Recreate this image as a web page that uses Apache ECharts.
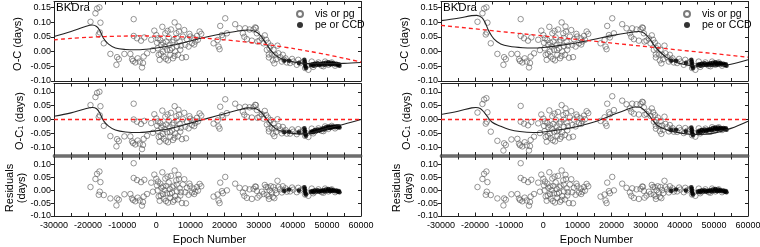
<!DOCTYPE html>
<html><head><meta charset="utf-8">
<script src="https://cdn.jsdelivr.net/npm/echarts@6/dist/echarts.min.js"></script>
<style>html,body{margin:0;padding:0;background:#fff}#c{width:760px;height:247px}</style>
</head><body><div id="c"></div>
<script>
// ---------- tick labels ----------
const xTickLabels = [-30000,-20000,-10000,0,10000,20000,30000,40000,50000,60000];
const yTicksOC  = [-0.10,-0.05,0,0.05,0.10,0.15];
const yTicksOC1 = [-0.10,-0.05,0,0.05,0.10];
const yTicksRes = [-0.10,-0.05,0,0.05,0.10];
const legendNames = ['vis or pg','pe or CCD'];

// ---------- visual / photographic timings ----------
const visE = [-19300,-17850,-17370,-16680,-16390,-16580,-16880,-15410,-13470,-11510,
 -11700,-11000,-9360,-7610,-7120,-6830,-6640,-6640,-6150,-5660,
 -5460,-4880,-4490,-4200,-3910,-3520,-3710,-2730,
 -1500,-1000,-590,0,200,390,500,690,980,1170,
 1300,1460,1760,1950,2000,2150,2440,2640,2800,2930,
 3120,3300,3420,3610,3900,4000,4100,4290,4590,4700,
 4880,5070,5300,5370,5560,5850,6000,6050,6340,6500,
 6630,6830,7020,7200,7510,7800,8190,8490,8700,8970,
 9460,9700,9950,10440,10930,11100,11420,11910,12200,12690,
 13170,16780,17950,18240,18540,18730,19220,19510,20200,20690,
 23120,24390,25370,25800,26050,26540,27320,28000,28490,28980,
 29200,29470,29660,30250,30930,31420,31800,32200,32400,32700,
 32980,33000,33180,33570,33860,34150,34350,34600,34830,35130,
 35520,35810,36300,36790,37080,37470,37860,38250,39220,39800,
 40200,41170,41600,42150,43120,43610,44100,44580,45560,46000,
 46540,47510,48490,49000,49460,50440,51420,52390];
const visOC = [.101,.130,.146,.150,.098,.065,.058,.028,-.008,-.019,
 -.045,-.026,-.008,-.008,-.026,-.032,.110,.053,-.037,.045,
 -.023,-.034,.037,-.054,-.039,.048,-.017,-.006,
 .040,.005,.071,.056,.030,.011,.045,-.011,-.028,.039,
 -.008,.023,.084,.000,.030,-.017,.017,.062,-.025,.034,
 .006,.070,-.030,.048,.023,.005,-.011,.075,.011,.032,
 -.023,.039,-.015,.099,.000,.062,.046,.019,-.011,.085,
 .068,.034,.006,.020,-.021,.051,.073,.023,-.019,.042,
 .017,.060,.051,.028,.045,.024,.034,.053,.040,.068,
 .060,.028,.039,.017,.008,.087,.056,.048,.113,.062,
 .093,.079,.062,.050,.079,.042,.075,.037,.075,.082,
 .080,.062,.034,.037,.045,.028,.055,.040,.006,.030,
 -.010,-.020,.011,.020,-.010,-.030,.006,-.040,-.011,-.026,
 .020,-.006,-.019,-.034,-.011,-.028,-.023,-.037,-.039,-.025,
 -.034,-.045,-.028,-.039,-.034,-.056,-.048,-.062,-.034,-.052,
 -.045,-.037,-.048,-.050,-.034,-.045,-.037,-.048];
const visOC1Left = [.052,.081,.096,.100,.048,.015,.008,-.023,-.060,-.071,
 -.097,-.078,-.061,-.061,-.079,-.085,.057,.000,-.090,-.008,
 -.076,-.087,-.016,-.107,-.092,-.005,-.070,-.059,
 -.013,-.048,.019,.004,-.022,-.041,-.007,-.063,-.080,-.013,
 -.060,-.029,.032,-.052,-.022,-.069,-.035,.010,-.077,-.018,
 -.046,.018,-.082,-.004,-.028,-.046,-.062,.024,-.040,-.019,
 -.074,-.012,-.066,.048,-.051,.012,-.004,-.031,-.061,.035,
 .018,-.016,-.044,-.030,-.071,.001,.024,-.026,-.068,-.007,
 -.032,.012,.003,-.020,-.003,-.024,-.013,.006,-.007,.022,
 .014,-.015,-.003,-.025,-.033,.046,.015,.007,.073,.023,
 .057,.044,.028,.017,.046,.010,.044,.007,.045,.053,
 .052,.034,.006,.010,.019,.003,.031,.016,-.018,.007,
 -.033,-.043,-.011,-.002,-.031,-.051,-.015,-.060,-.031,-.045,
 .001,-.024,-.036,-.050,-.027,-.043,-.038,-.051,-.051,-.036,
 -.044,-.053,-.035,-.045,-.038,-.059,-.050,-.063,-.033,-.050,
 -.042,-.032,-.041,-.042,-.025,-.034,-.023,-.032];
const visOC1Right = [.025,.056,.072,.077,.026,-.008,-.015,-.044,-.077,-.086,
 -.112,-.092,-.072,-.070,-.087,-.093,.049,-.008,-.097,-.015,
 -.082,-.093,-.021,-.112,-.096,-.009,-.074,-.062,
 -.014,-.049,.018,.003,-.023,-.042,-.007,-.063,-.080,-.013,
 -.059,-.028,.033,-.051,-.021,-.067,-.033,.012,-.075,-.016,
 -.044,.021,-.079,-.001,-.025,-.043,-.059,.027,-.037,-.015,
 -.070,-.008,-.062,.052,-.046,.016,.000,-.027,-.056,.040,
 .023,-.011,-.039,-.024,-.065,.007,.030,-.020,-.062,.000,
 -.025,.018,.010,-.013,.005,-.016,-.006,.014,.001,.030,
 .023,-.005,.008,-.014,-.023,.057,.026,.019,.084,.034,
 .068,.055,.040,.028,.057,.021,.055,.018,.056,.064,
 .062,.044,.017,.020,.029,.013,.040,.026,-.008,.016,
 -.023,-.033,-.002,.007,-.022,-.042,-.006,-.052,-.022,-.037,
 .010,-.016,-.028,-.043,-.020,-.036,-.031,-.044,-.045,-.030,
 -.039,-.049,-.031,-.041,-.035,-.057,-.048,-.062,-.032,-.050,
 -.042,-.033,-.043,-.044,-.028,-.038,-.028,-.038];
const visRes = [.012,.043,.063,.072,.031,-.006,-.018,-.019,-.032,-.032,
 -.059,-.037,-.016,-.015,-.032,-.038,.104,.047,-.043,.039,
 -.029,-.040,.031,-.060,-.046,.040,-.025,-.015,
 .029,-.006,.060,.044,.018,-.001,.033,-.024,-.041,.025,
 -.022,.009,.069,-.015,.014,-.033,.000,.045,-.042,.016,
 -.012,.052,-.048,.030,.004,-.014,-.030,.055,-.010,.011,
 -.045,.017,-.038,.076,-.023,.038,.021,-.005,-.036,.059,
 .043,.007,-.021,-.008,-.050,.022,.042,-.008,-.051,.009,
 -.018,.025,.015,-.009,.006,-.015,-.006,.012,-.002,.024,
 .015,-.025,-.017,-.040,-.050,.029,-.004,-.012,.051,-.001,
 .025,.009,-.009,-.022,.007,-.030,.003,-.034,.005,.014,
 .013,-.003,-.029,-.021,-.006,-.015,.020,.012,-.018,.011,
 -.024,-.034,.000,.015,-.010,-.026,.012,-.031,.000,-.012,
 .036,.012,.003,-.009,.015,.000,.007,-.006,-.005,.010,
 .002,-.008,.009,-.001,.005,-.017,-.009,-.022,.006,-.012,
 -.005,.003,-.008,-.010,.006,-.005,.003,-.008];

// ---------- photoelectric / CCD timings ----------
const ccdE = [37500,38900,41800,43400,43500,43600,43700,43800,45300,45700,
 46000,46400,46900,47300,47700,48100,48500,48900,49300,49700,
 50100,50400,50700,51000,51300,51600,52000,52400,52800,53200,53500,53700];
const ccdOC = [-.030,-.031,-.039,-.028,-.035,-.042,-.050,-.056,-.046,-.043,
 -.048,-.041,-.045,-.040,-.046,-.042,-.044,-.040,-.045,-.038,
 -.043,-.036,-.041,-.044,-.038,-.042,-.040,-.044,-.041,-.046,-.043,-.048];
const ccdOC1Left = [-.045,-.044,-.046,-.032,-.039,-.045,-.053,-.059,-.046,-.042,
 -.046,-.039,-.042,-.036,-.041,-.036,-.037,-.032,-.036,-.028,
 -.032,-.025,-.029,-.031,-.025,-.028,-.025,-.028,-.024,-.028,-.024,-.029];
const ccdOC1Right = [-.038,-.037,-.042,-.029,-.036,-.043,-.051,-.056,-.045,-.041,
 -.046,-.038,-.042,-.036,-.042,-.037,-.039,-.034,-.039,-.031,
 -.036,-.029,-.033,-.036,-.029,-.033,-.031,-.034,-.031,-.035,-.032,-.037];
const ccdRes = [-.002,.002,-.001,.011,.004,-.003,-.011,-.017,-.006,-.003,
 -.008,-.001,-.005,.000,-.006,-.002,-.004,.000,-.005,.002,
 -.003,.004,-.001,-.004,.002,-.002,.000,-.004,-.001,-.006,-.003,-.008];

// ---------- fitted curves ----------
const fitLeftE = [-30000,-25000,-21000,-18800,-17500,-16500,-15500,-14000,-12000,-9000,-6000,-3000,0,5000,10000,15000,20000,24000,27000,29000,30500,32000,33500,35000,37000,40000,45000,50000,55000,60000];
const fitLeftOC = [.051,.068,.084,.090,.085,.070,.045,.025,.012,.007,.006,.008,.012,.022,.036,.050,.062,.070,.073,.068,.055,.030,.005,-.013,-.026,-.035,-.041,-.041,-.040,-.037];
const fitLeftE1 = [-30000,-25000,-21000,-18800,-17500,-16500,-15500,-14000,-12000,-9000,-5000,0,5000,10000,15000,20000,24000,27000,29000,30500,32000,33500,35000,37000,40000,42500,45000,50000,55000,60000];
const fitLeftOC1 = [.012,.024,.038,.0435,.039,.022,-.004,-.024,-.038,-.045,-.047,-.041,-.030,-.013,.004,.021,.034,.042,.040,.029,.007,-.017,-.033,-.043,-.050,-.052,-.049,-.032,-.017,.000];
const fitRightE = [-30000,-25000,-21000,-19500,-18000,-17000,-16000,-14500,-12500,-10000,-6000,-3000,0,5000,10000,15000,20000,25000,28000,29500,31000,32500,34000,36000,38000,41000,45000,50000,55000,60000];
const fitRightOC = [.105,.113,.122,.123,.115,.097,.070,.043,.026,.018,.013,.012,.014,.021,.030,.042,.054,.064,.068,.063,.046,.021,.001,-.019,-.032,-.043,-.049,-.050,-.043,-.028];
const fitRightE1 = [-30000,-25000,-21000,-19800,-18500,-17500,-16500,-15000,-12700,-10000,-6900,-3000,0,5800,10000,15600,20000,25300,27000,28300,29500,31200,33100,35000,37000,42900,46000,49700,55000,60000];
const fitRightOC1 = [.018,.030,.042,.0435,.040,.028,.012,-.010,-.0235,-.036,-.0435,-.047,-.045,-.035,-.025,-.006,.015,.040,.045,.044,.035,.012,-.018,-.032,-.041,-.053,-.054,-.050,-.032,-.006];
// ephemeris trends (red dashed)
const trendLeftE = [-30000,-25000,-20000,-15000,-10000,-5000,0,5000,10000,15000,20000,25000,30000,35000,40000,45000,50000,55000,60000];
const trendLeftOC = [.0399,.0446,.0483,.0509,.0525,.053,.0525,.0509,.0483,.0446,.0399,.0341,.0273,.0194,.0105,.0005,-.0105,-.0226,-.0357];
const trendRightE = [-30000,60000];
const trendRightOC = [.089,-.019];
const zeroE = [-30000,60000];
const zeroV = [0,0];

// ---------- layout ----------
const FONT = '"Liberation Sans", Arial, Helvetica, sans-serif';
const panelX = [54, 441];
const PW = 307;
const rowsCfg = [
  {top:1.5, height:79.5, min:-0.10, max:0.17, ticks:yTicksOC},
  {top:83.5, height:72, min:-0.13, max:0.13, ticks:yTicksOC1},
  {top:156.5, height:59.5, min:-0.10, max:0.13, ticks:yTicksRes}
];
const zip = (a,b) => a.map((v,i)=>[v,b[i]]);
const AX = '#222';
const BAND = '#6e6e6e';
const RED = '#ff1f1f';

const grid=[], xAxis=[], yAxis=[], series=[], graphic=[];
for (let p=0;p<2;p++){
  for (let r=0;r<3;r++){
    const g = p*3+r, c = rowsCfg[r];
    grid.push({left:panelX[p], top:c.top, width:PW, height:c.height, containLabel:false, outerBoundsMode:'none'});
    const bottomColor = r===1 ? BAND : AX, bottomW = r===1 ? 2.5 : 1;
    const topColor = r===2 ? BAND : AX, topW = r===2 ? 2.5 : 1;
    xAxis.push({gridIndex:g, type:'value', position:'bottom', min:-30000, max:60000, interval:10000,
      axisLine:{show:true, onZero:false, lineStyle:{color:bottomColor, width:bottomW}},
      axisTick:{show:true, inside:true, length:3.5, lineStyle:{color:AX}},
      minorTick:{show:true, splitNumber:2, length:3, lineStyle:{color:AX}},
      splitLine:{show:false}, minorSplitLine:{show:false},
      axisLabel:{show:r===2, fontSize:9, color:'#000', fontFamily:FONT, margin:5,
        formatter:v=> xTickLabels.includes(v) ? String(v) : ''}});
    xAxis.push({gridIndex:g, type:'value', position:'top', min:-30000, max:60000, interval:10000,
      axisLine:{show:true, onZero:false, lineStyle:{color:topColor, width:topW}},
      axisTick:{show:true, inside:true, length:3.5, lineStyle:{color:AX}},
      minorTick:{show:true, splitNumber:2, length:3, lineStyle:{color:AX}},
      splitLine:{show:false}, minorSplitLine:{show:false}, axisLabel:{show:false}});
    yAxis.push({gridIndex:g, type:'value', position:'left', min:c.min, max:c.max,
      axisLine:{show:true, onZero:false, lineStyle:{color:AX}},
      axisTick:{show:true, inside:false, length:3, customValues:c.ticks, lineStyle:{color:AX}},
      axisLabel:{show:true, customValues:c.ticks, fontSize:9, color:'#000', fontFamily:FONT, margin:3,
        formatter:v=>v.toFixed(2)},
      splitLine:{show:false}, minorSplitLine:{show:false}});
    yAxis.push({gridIndex:g, type:'value', position:'right', min:c.min, max:c.max,
      axisLine:{show:true, onZero:false, lineStyle:{color:AX}},
      axisTick:{show:true, inside:true, length:3, customValues:c.ticks, lineStyle:{color:AX}},
      axisLabel:{show:false}, splitLine:{show:false}, minorSplitLine:{show:false}});
  }
}

const visStyle = {color:'rgba(255,255,255,0)', borderColor:'#5a5a5a', borderWidth:0.8};
const ccdStyle = {color:'#000'};
function scat(name, g, data, style, size){
  series.push({type:'scatter', name, xAxisIndex:2*g, yAxisIndex:2*g, data, symbol:'circle',
    symbolSize:size, itemStyle:style, silent:true, z:2});
}
function line(g, data, color, dashed, smooth, w){
  series.push({type:'line', xAxisIndex:2*g, yAxisIndex:2*g, data, symbol:'none', smooth:smooth,
    color: color, itemStyle:{color},
    lineStyle:{color, width:w||1.1, type: dashed?[4,3]:'solid', opacity:1}, silent:true, z:dashed?6:3, clip:true});
}
for (let p=0;p<2;p++){
  const g0=p*3, g1=p*3+1, g2=p*3+2;
  scat('vis or pg', g0, zip(visE, visOC), visStyle, 5.5);
  scat('pe or CCD', g0, zip(ccdE, ccdOC), ccdStyle, 4.5);
  if (p===0){ line(g0, zip(trendLeftE, trendLeftOC), RED, true, 0.3, 1.3); line(g0, zip(fitLeftE, fitLeftOC), '#222', false, 0.35); }
  else { line(g0, zip(trendRightE, trendRightOC), RED, true, false, 1.3); line(g0, zip(fitRightE, fitRightOC), '#222', false, 0.35); }
  scat('vis or pg', g1, zip(visE, p===0?visOC1Left:visOC1Right), visStyle, 5.5);
  scat('pe or CCD', g1, zip(ccdE, p===0?ccdOC1Left:ccdOC1Right), ccdStyle, 4.5);
  line(g1, zip(zeroE, zeroV), RED, true, false, 1.6);
  line(g1, zip(p===0?fitLeftE1:fitRightE1, p===0?fitLeftOC1:fitRightOC1), '#222', false, 0.35);
  scat('vis or pg', g2, zip(visE, visRes), visStyle, 5.5);
  scat('pe or CCD', g2, zip(ccdE, ccdRes), ccdStyle, 4.5);

  const px = panelX[p];
  graphic.push({type:'text', left:px+2, top:2, style:{text:'BKDra', font:'11.5px '+FONT, fill:'#000'}});
  graphic.push({type:'text', x:px-36, y:44, rotation:Math.PI/2,
    style:{text:'O-C (days)', font:'11px '+FONT, fill:'#000', align:'center', verticalAlign:'middle'}});
  graphic.push({type:'text', x:px-36, y:121, rotation:Math.PI/2,
    style:{text:'{a|O-C}{s|1}{a| (days)}', align:'center', verticalAlign:'middle',
      rich:{a:{font:'11px '+FONT, fill:'#000', lineHeight:14, verticalAlign:'bottom'},
            s:{font:'7.5px '+FONT, fill:'#000', lineHeight:10, verticalAlign:'bottom'}}}});
  graphic.push({type:'text', x:px-38, y:188, rotation:Math.PI/2,
    style:{text:'Residuals\n(days)', font:'11px '+FONT, fill:'#000', align:'center', verticalAlign:'middle', lineHeight:12}});
  graphic.push({type:'text', x:px+PW/2+2, y:240, style:{text:'Epoch Number', font:'11px '+FONT, fill:'#000', align:'center', verticalAlign:'middle'}});
}

const legend = panelX.map(px=>({data:legendNames, left:px+237, top:3.5, orient:'vertical', itemGap:0,
  itemWidth:14, itemHeight:6, textStyle:{fontSize:10.5, fontFamily:FONT, color:'#000', padding:[0,0,0,3]}, selectedMode:false}));

const chart = echarts.init(document.getElementById('c'), null, {renderer:'canvas', width:760, height:247});
chart.setOption({animation:false, backgroundColor:'#fff', grid, xAxis, yAxis, series, legend, graphic});
</script></body></html>
